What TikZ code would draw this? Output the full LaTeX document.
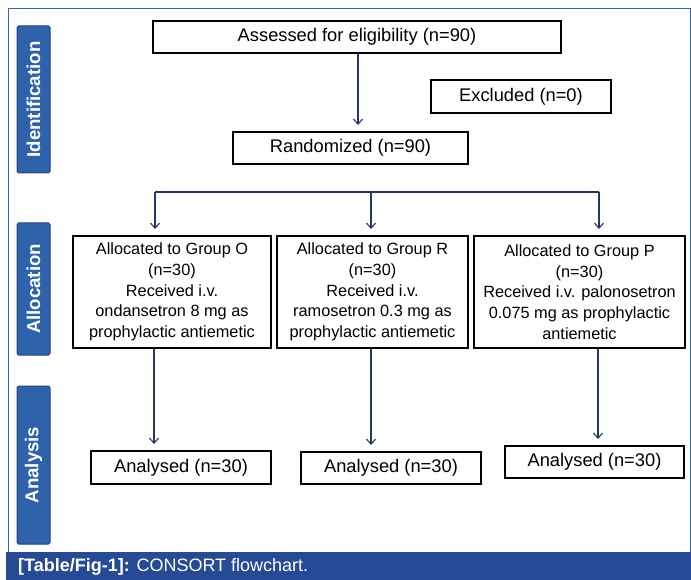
\documentclass[tikz,border=0pt]{standalone}
\usepackage{fontspec}
\setmainfont{Liberation Sans}
\usetikzlibrary{arrows.meta}
\definecolor{barblue}{RGB}{46,99,172}
\definecolor{baredge}{RGB}{30,70,130}
\definecolor{capblue}{RGB}{38,74,150}
\definecolor{framblue}{RGB}{60,95,170}
\definecolor{arrnavy}{RGB}{35,55,100}
\begin{document}
\begin{tikzpicture}[x=1pt,y=-1pt,
  box/.style={draw=black,line width=2pt,inner sep=0pt,align=center,
    font=\fontsize{18.3}{22}\selectfont},
  grpbox/.style={draw=black,line width=2pt,inner sep=0pt,align=center,
    minimum width=#1,minimum height=112pt,
    font=\fontsize{16.3}{20.7}\selectfont},
  sidebar/.style={fill=barblue,draw=baredge,line width=1pt,rounded corners=1.5pt,
    inner sep=0pt,minimum width=33pt,minimum height=#1,
    text=white,font=\bfseries\fontsize{18.6}{20}\selectfont},
  flow/.style={draw=arrnavy,line width=1.1pt,-{Straight Barb[length=5pt,width=9pt,line width=1.1pt]},shorten >=6pt},
  plain/.style={draw=arrnavy,line width=1.1pt}
]
\useasboundingbox (0,0) rectangle (691,580);
% frame and caption bar
\draw[framblue,line width=1pt] (8,9) rectangle (690,552);
\fill[capblue] (6,552) rectangle (691,580);
\node[anchor=west,text=white,inner sep=0pt,font=\fontsize{18}{20}\selectfont] (cap) at (18,567)
  {\textbf{[Table/Fig-1]:} CONSORT flowchart.};
% side bars
\node[sidebar=147pt] (idbar) at (33.5,99.5) {\rotatebox{90}{Identification}};
\node[sidebar=132pt] (albar) at (33.5,289) {\rotatebox{90}{Allocation}};
\node[sidebar=158pt] (anbar) at (33.5,465) {\rotatebox{90}{Analysis}};
% boxes
\node[box,minimum width=408pt,minimum height=32pt] (assess) at (357,37) {Assessed for eligibility (n=90)};
\node[box,minimum width=180pt,minimum height=33pt] (excl) at (521,96.5) {Excluded (n=0)};
\node[box,minimum width=235pt,minimum height=32pt] (rand) at (350.5,148) {Randomized (n=90)};
\node[grpbox=198pt] (gO) at (172,292) {Allocated to Group O\\(n=30)\\Received i.v.\\ondansetron 8 mg as\\prophylactic antiemetic};
\node[grpbox=191pt] (gR) at (372.5,292) {Allocated to Group R\\(n=30)\\Received i.v.\\ramosetron 0.3 mg as\\prophylactic antiemetic};
\node[grpbox=211pt] (gP) at (579.5,292) {Allocated to Group P\\(n=30)\\Received i.v. palonosetron\\0.075 mg as prophylactic\\antiemetic};
\node[box,minimum width=180pt,minimum height=33pt] (aO) at (181,467.5) {Analysed (n=30)};
\node[box,minimum width=180pt,minimum height=32pt] (aR) at (391,468) {Analysed (n=30)};
\node[box,minimum width=179pt,minimum height=32pt] (aP) at (594.5,462) {Analysed (n=30)};
% connector columns
\coordinate (cA) at (358,0);
\coordinate (bL) at (155,192);
\coordinate (bM) at (371,192);
\coordinate (bR) at (599,192);
\coordinate (cO) at (154,0);
\coordinate (cR) at (371,0);
\coordinate (cP) at (598,0);
% connectors
\draw[flow] (assess.south -| cA) -- (rand.north -| cA);
\draw[plain] (bL) -- (bR);
\draw[flow] (bL) -- (gO.north -| bL);
\draw[flow] (bM) -- (gR.north -| bM);
\draw[flow] (bR) -- (gP.north -| bR);
\draw[flow] (gO.south -| cO) -- (aO.north -| cO);
\draw[flow] (gR.south -| cR) -- (aR.north -| cR);
\draw[flow] (gP.south -| cP) -- (aP.north -| cP);
\end{tikzpicture}
\end{document}
